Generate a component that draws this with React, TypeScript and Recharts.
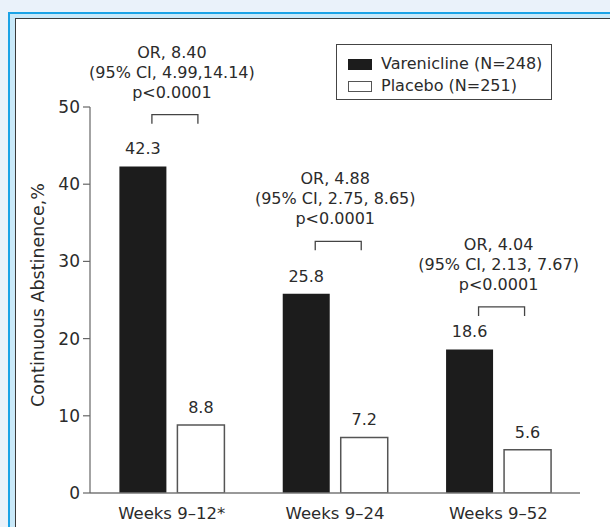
import React from "react";
import { BarChart, Bar, XAxis, YAxis, Legend, LabelList } from "recharts";

const categories = ["Weeks 9–12*", "Weeks 9–24", "Weeks 9–52"];
const varenicline = [42.3, 25.8, 18.6];
const placebo = [8.8, 7.2, 5.6];
const orTexts = [
  ["OR, 8.40", "(95% CI, 4.99,14.14)", "p<0.0001"],
  ["OR, 4.88", "(95% CI, 2.75, 8.65)", "p<0.0001"],
  ["OR, 4.04", "(95% CI, 2.13, 7.67)", "p<0.0001"],
];
const bracketLevels = [49.0, 32.6, 24.1];
const yTicks = [0, 10, 20, 30, 40, 50];
const seriesNames = ["Varenicline (N=248)", "Placebo (N=251)"];

const data = categories.map((c, i) => ({
  name: c,
  varenicline: varenicline[i],
  placebo: placebo[i],
}));

const FONT = "'DejaVu Sans', sans-serif";
const TXT = "#2b2b2b";
const BAR_GAP = 11;

const ValueLabel = (props: any) => {
  const { x, y, width, value } = props;
  return (
    <text x={x + width / 2} y={y - 12} textAnchor="middle" fontFamily={FONT} fontSize={16} fill={TXT}>
      {Number(value).toFixed(1)}
    </text>
  );
};

const VarLabel = (props: any) => {
  const { x, y, width, height, value } = props;
  let index = props.index;
  if (index === undefined || index === null) index = varenicline.indexOf(Number(value));
  const cx = x + width / 2;
  const gx = x + width + BAR_GAP / 2;
  const pxPerUnit = height / value;
  const baseY = y + height;
  const by = baseY - bracketLevels[index] * pxPerUnit;
  const lines = orTexts[index];
  return (
    <g>
      <text x={cx} y={y - 12} textAnchor="middle" fontFamily={FONT} fontSize={16} fill={TXT}>
        {Number(value).toFixed(1)}
      </text>
      <path
        d={`M${cx + 9},${by + 9} L${cx + 9},${by} L${cx + 55},${by} L${cx + 55},${by + 9}`}
        fill="none"
        stroke="#444"
        strokeWidth={1.3}
      />
      {lines.map((t: string, k: number) => (
        <text
          key={k}
          x={gx}
          y={by - 23 - (2 - k) * 20 + 6}
          textAnchor="middle"
          fontFamily={FONT}
          fontSize={16}
          fill={TXT}
        >
          {t}
        </text>
      ))}
    </g>
  );
};

const LegendBox = () => (
  <div
    style={{
      width: 214,
      height: 54,
      border: "1px solid #444",
      background: "#fff",
      fontFamily: FONT,
      fontSize: 16,
      color: TXT,
      position: "relative",
      boxSizing: "content-box",
    }}
  >
    {seriesNames.map((n, i) => (
      <div key={n} style={{ position: "absolute", left: 11, top: 9 + i * 22, height: 20, display: "flex", alignItems: "center" }}>
        <div
          style={{
            width: i === 0 ? 24 : 22,
            height: i === 0 ? 11 : 9,
            background: i === 0 ? "#1c1c1c" : "#fff",
            border: i === 0 ? "none" : "1px solid #555",
            marginRight: 9,
          }}
        />
        <span style={{ whiteSpace: "nowrap", lineHeight: "20px" }}>{n}</span>
      </div>
    ))}
  </div>
);

const YLabel = () => (
  <text
    x={38}
    y={295}
    transform="rotate(-90 38 295)"
    textAnchor="middle"
    dominantBaseline="central"
    fontFamily={FONT}
    fontSize={17.5}
    fill={TXT}
  >
    Continuous Abstinence,%
  </text>
);

export default function App() {
  return (
    <div style={{ position: "absolute", left: 0, top: 0, width: 610, height: 527, overflow: "hidden", background: "#eaf2fa" }}>
      <div
        style={{
          position: "absolute",
          left: 8,
          top: 12,
          width: 700,
          height: 600,
          borderLeft: "2.5px solid #1ba3e6",
          borderTop: "2.5px solid #1ba3e6",
          background: "#c9e9f9",
        }}
      >
        <div
          style={{
            position: "absolute",
            left: 5,
            top: 4,
            width: 700,
            height: 600,
            borderLeft: "1.5px solid #3a3a3a",
            borderTop: "1.5px solid #3a3a3a",
            background: "#fff",
          }}
        />
      </div>
      <div style={{ position: "absolute", left: 0, top: 0 }}>
        <BarChart
          width={610}
          height={527}
          data={data}
          margin={{ top: 107, right: 30, bottom: 4, left: 0 }}
          barCategoryGap="18%"
          barGap={BAR_GAP}
        >
          <XAxis
            dataKey="name"
            tickLine={false}
            axisLine={{ stroke: "#777", strokeWidth: 1.3 }}
            tick={{ fontFamily: FONT, fontSize: 16.5, fill: TXT }}
            tickMargin={8}
            interval={0}
          />
          <YAxis
            width={90}
            domain={[0, 50]}
            ticks={yTicks}
            tickSize={7}
            tickLine={{ stroke: "#666", strokeWidth: 1.2 }}
            axisLine={{ stroke: "#666", strokeWidth: 1.2 }}
            tick={{ fontFamily: FONT, fontSize: 17, fill: TXT }}
            tickMargin={3}
            allowDataOverflow
          />
          <Legend
            layout="vertical"
            align="center"
            verticalAlign="middle"
            wrapperStyle={{ position: "absolute", left: 336, top: 44, width: 216 }}
            content={<LegendBox />}
          />
          <Bar dataKey="varenicline" fill="#1c1c1c" isAnimationActive={false}>
            <LabelList dataKey="varenicline" content={<VarLabel />} />
          </Bar>
          <Bar dataKey="placebo" fill="#ffffff" stroke="#555" strokeWidth={1.5} isAnimationActive={false}>
            <LabelList dataKey="placebo" content={<ValueLabel />} />
          </Bar>
          <YLabel />
        </BarChart>
      </div>
    </div>
  );
}
